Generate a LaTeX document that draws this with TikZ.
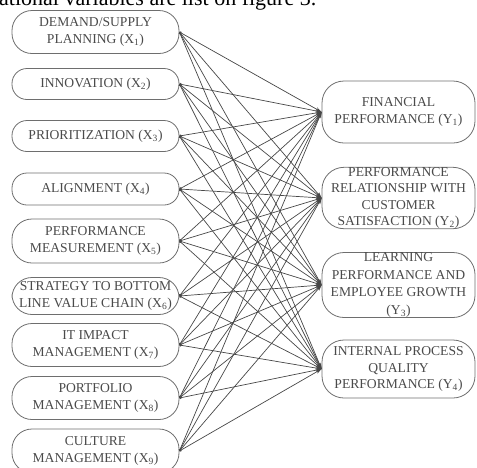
\documentclass[tikz,border=0pt]{standalone}
\usepackage{fontspec}
\setmainfont{Liberation Serif}
\usetikzlibrary{arrows.meta}
\definecolor{txtgray}{HTML}{4A4A4A}
\definecolor{boxgray}{HTML}{6E6E6E}
\definecolor{linegray}{HTML}{474747}
\begin{document}
\begin{tikzpicture}[x=1pt,y=-1pt,
  box/.style={draw=boxgray,line width=0.8pt,text=txtgray,align=center,inner sep=0pt,
    font=\fontsize{13.6}{16.5}\selectfont},
  lbox/.style={box,minimum width=167pt,rounded corners=15pt},
  tallbox/.style={lbox,rounded corners=20pt},
  rbox/.style={box,minimum width=153pt,rounded corners=22pt},
  link/.style={draw=linegray,line width=0.7pt,{Circle[length=2.4pt]}-{Stealth[length=6pt,width=3.6pt]}}
]
\useasboundingbox (0,0) rectangle (477,467);
\clip (0,0) rectangle (477,467);
\node[anchor=base west,inner sep=0pt,text=black,font=\fontsize{22}{24}\selectfont] (cap) at (-1,5) {ational variables are list on figure 3.};
% left boxes
\node[tallbox,minimum height=43pt] (x1) at (95.5,32) {DEMAND/SUPPLY\\PLANNING (X\textsubscript{1})};
\node[lbox,minimum height=31pt] (x2) at (95.5,84) {INNOVATION (X\textsubscript{2})};
\node[lbox,minimum height=31pt] (x3) at (95.5,136) {PRIORITIZATION (X\textsubscript{3})};
\node[lbox,minimum height=32pt] (x4) at (95.5,189) {ALIGNMENT (X\textsubscript{4})};
\node[tallbox,minimum height=44pt] (x5) at (95.5,241) {PERFORMANCE\\MEASUREMENT (X\textsubscript{5})};
\node[tallbox,minimum height=37pt] (x6) at (95.5,296) {STRATEGY TO BOTTOM\\LINE VALUE CHAIN (X\textsubscript{6})};
\node[tallbox,minimum height=43pt] (x7) at (95.5,345) {IT IMPACT\\MANAGEMENT (X\textsubscript{7})};
\node[tallbox,minimum height=43pt] (x8) at (95.5,398) {PORTFOLIO\\MANAGEMENT (X\textsubscript{8})};
\node[tallbox,minimum height=44pt] (x9) at (95.5,451) {CULTURE\\MANAGEMENT (X\textsubscript{9})};
% right boxes
\node[rbox,minimum height=62pt] (y1) at (398.5,112) {FINANCIAL\\PERFORMANCE (Y\textsubscript{1})};
\node[rbox,minimum height=61pt] (y2) at (398.5,198) {PERFORMANCE\\RELATIONSHIP WITH\\CUSTOMER\\SATISFACTION (Y\textsubscript{2})};
\node[rbox,minimum height=65pt,font=\fontsize{13.6}{17.5}\selectfont] (y3) at (398.5,285) {LEARNING\\PERFORMANCE AND\\EMPLOYEE GROWTH\\(Y\textsubscript{3})};
\node[rbox,minimum height=58pt] (y4) at (398.5,369) {INTERNAL PROCESS\\QUALITY\\PERFORMANCE (Y\textsubscript{4})};
% connectors
\foreach \i in {1,...,9}{
  \foreach \j in {1,...,4}{
    \draw[link] (x\i.east) -- (y\j.west);
  }
}
\end{tikzpicture}
\end{document}
